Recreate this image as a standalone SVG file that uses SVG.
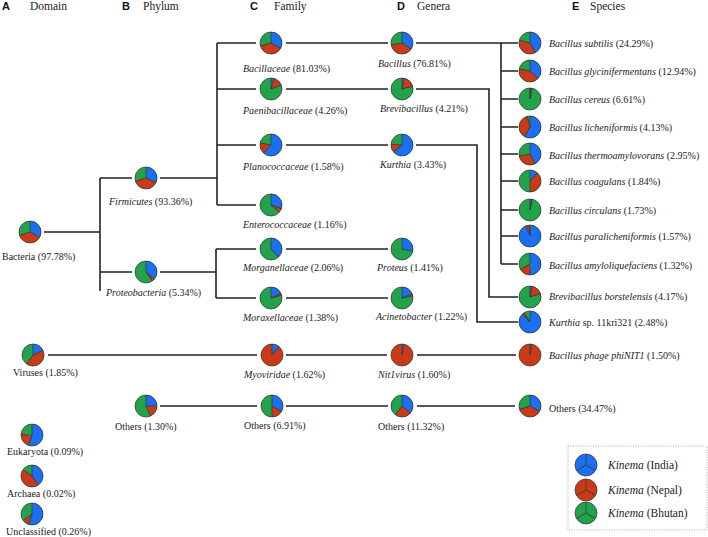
<svg xmlns="http://www.w3.org/2000/svg" width="708" height="537" viewBox="0 0 708 537">
<style>
.t{font-family:"Liberation Serif","Times New Roman",serif;font-size:10px;fill:#222}
.h{font-size:11.5px}
.L{font-family:"Liberation Sans",Arial,sans-serif;font-weight:bold;font-size:11px;fill:#111}
.i{font-style:italic}
.gf{fill:#22a24a}
.bf{fill:#1c6ff0}
.rf{fill:#c93a18}
.b{fill:none;stroke:#1c6ff0;stroke-width:11}
.r{fill:none;stroke:#c93a18;stroke-width:11}
.o{fill:none;stroke:#333;stroke-width:0.7}
.s{stroke:#333;stroke-width:0.7}
.c{fill:none;stroke:#222;stroke-width:1.6}
</style>
<rect width="708" height="537" fill="#fff"/>
<g id="headers">
<text class="L" x="2" y="10">A</text><text class="t h" x="30" y="10">Domain</text>
<text class="L" x="122" y="10">B</text><text class="t h" x="143" y="10">Phylum</text>
<text class="L" x="250" y="10">C</text><text class="t h" x="274" y="10">Family</text>
<text class="L" x="397" y="10">D</text><text class="t h" x="417" y="10">Genera</text>
<text class="L" x="572" y="10">E</text><text class="t h" x="590" y="10">Species</text>
</g>
<g id="connectors">
<path class="c" d="M44,232H100M100,178V291M100,178H132M100,272H132"/>
<path class="c" d="M160,178H217M217,43V205M217,43H256M217,89H256M217,145H256M217,205H256"/>
<path class="c" d="M160,272H216M216,249V298M216,249H256M216,298H256"/>
<path class="c" d="M286,43H388M286,89H388M286,145H388M286,249H388M286,298H388"/>
<path class="c" d="M416,43H518M501,43V264M501,71H518M501,99H518M501,127H518M501,154H518M501,181H518M501,210H518M501,236H518M501,264H518"/>
<path class="c" d="M416,89H489V297H518M416,145H477V322H518"/>
<path class="c" d="M48,355H257M286,355H387M417,355H516"/>
<path class="c" d="M160,406H257M286,406H388M417,406H515"/>
</g>

<g id="bacteria"><g transform="translate(30,232)"><circle r="11" class="gf"/><circle r="5.5" class="b" pathLength="100" stroke-dasharray="33 100" transform="rotate(-90)"/><circle r="5.5" class="r" pathLength="100" stroke-dasharray="37 100" stroke-dashoffset="-33" transform="rotate(-90)"/><circle r="11" class="o"/><line class="s" y2="-11"/><line class="s" y2="-11" transform="rotate(118.8)"/><line class="s" y2="-11" transform="rotate(252)"/></g><text class="t" x="2" y="259.5">Bacteria (97.78%)</text></g>

<g id="viruses"><g transform="translate(33,355)"><circle r="11" class="gf"/><circle r="5.5" class="b" pathLength="100" stroke-dasharray="18 100" transform="rotate(-90)"/><circle r="5.5" class="r" pathLength="100" stroke-dasharray="42 100" stroke-dashoffset="-18" transform="rotate(-90)"/><circle r="11" class="o"/><line class="s" y2="-11"/><line class="s" y2="-11" transform="rotate(64.8)"/><line class="s" y2="-11" transform="rotate(216)"/></g><text class="t" x="13" y="376">Viruses (1.85%)</text></g>

<g id="eukaryota"><g transform="translate(32,435)"><circle r="11" class="gf"/><circle r="5.5" class="b" pathLength="100" stroke-dasharray="55 100" transform="rotate(-90)"/><circle r="5.5" class="r" pathLength="100" stroke-dasharray="20 100" stroke-dashoffset="-55" transform="rotate(-90)"/><circle r="11" class="o"/><line class="s" y2="-11"/><line class="s" y2="-11" transform="rotate(198)"/><line class="s" y2="-11" transform="rotate(270)"/></g><text class="t" x="7" y="455">Eukaryota (0.09%)</text></g>

<g id="archaea"><g transform="translate(32,476)"><circle r="11" class="gf"/><circle r="5.5" class="b" pathLength="100" stroke-dasharray="40 100" transform="rotate(-90)"/><circle r="5.5" class="r" pathLength="100" stroke-dasharray="45 100" stroke-dashoffset="-40" transform="rotate(-90)"/><circle r="11" class="o"/><line class="s" y2="-11"/><line class="s" y2="-11" transform="rotate(144)"/><line class="s" y2="-11" transform="rotate(306)"/></g><text class="t" x="7" y="497">Archaea (0.02%)</text></g>

<g id="unclassified"><g transform="translate(32,514)"><circle r="11" class="gf"/><circle r="5.5" class="b" pathLength="100" stroke-dasharray="55 100" transform="rotate(-90)"/><circle r="5.5" class="r" pathLength="100" stroke-dasharray="10 100" stroke-dashoffset="-55" transform="rotate(-90)"/><circle r="11" class="o"/><line class="s" y2="-11"/><line class="s" y2="-11" transform="rotate(198)"/><line class="s" y2="-11" transform="rotate(234)"/></g><text class="t" x="6" y="534.5">Unclassified (0.26%)</text></g>

<g id="firmicutes"><g transform="translate(146,178)"><circle r="11" class="gf"/><circle r="5.5" class="b" pathLength="100" stroke-dasharray="32 100" transform="rotate(-90)"/><circle r="5.5" class="r" pathLength="100" stroke-dasharray="38 100" stroke-dashoffset="-32" transform="rotate(-90)"/><circle r="11" class="o"/><line class="s" y2="-11"/><line class="s" y2="-11" transform="rotate(115.2)"/><line class="s" y2="-11" transform="rotate(252)"/></g><text class="t" x="109" y="205"><tspan class="i">Firmicutes</tspan> (93.36%)</text></g>

<g id="proteobacteria"><g transform="translate(146,272)"><circle r="11" class="gf"/><circle r="5.5" class="b" pathLength="100" stroke-dasharray="36 100" transform="rotate(-90)"/><circle r="5.5" class="r" pathLength="100" stroke-dasharray="4 100" stroke-dashoffset="-36" transform="rotate(-90)"/><circle r="11" class="o"/><line class="s" y2="-11"/><line class="s" y2="-11" transform="rotate(129.6)"/><line class="s" y2="-11" transform="rotate(144)"/></g><text class="t" x="106" y="296"><tspan class="i">Proteobacteria</tspan> (5.34%)</text></g>

<g id="others-phylum"><g transform="translate(146,406)"><circle r="11" class="gf"/><circle r="5.5" class="b" pathLength="100" stroke-dasharray="25 100" transform="rotate(-90)"/><circle r="5.5" class="r" pathLength="100" stroke-dasharray="18 100" stroke-dashoffset="-25" transform="rotate(-90)"/><circle r="11" class="o"/><line class="s" y2="-11"/><line class="s" y2="-11" transform="rotate(90)"/><line class="s" y2="-11" transform="rotate(154.8)"/></g><text class="t" x="115" y="430">Others (1.30%)</text></g>

<g id="bacillaceae"><g transform="translate(271,43)"><circle r="11" class="gf"/><circle r="5.5" class="b" pathLength="100" stroke-dasharray="33 100" transform="rotate(-90)"/><circle r="5.5" class="r" pathLength="100" stroke-dasharray="38 100" stroke-dashoffset="-33" transform="rotate(-90)"/><circle r="11" class="o"/><line class="s" y2="-11"/><line class="s" y2="-11" transform="rotate(118.8)"/><line class="s" y2="-11" transform="rotate(255.6)"/></g><text class="t" x="243" y="72"><tspan class="i">Bacillaceae</tspan> (81.03%)</text></g>

<g id="paenibacillaceae"><g transform="translate(271,89)"><circle r="11" class="gf"/><circle r="5.5" class="b" pathLength="100" stroke-dasharray="4 100" transform="rotate(-90)"/><circle r="5.5" class="r" pathLength="100" stroke-dasharray="15 100" stroke-dashoffset="-4" transform="rotate(-90)"/><circle r="11" class="o"/><line class="s" y2="-11"/><line class="s" y2="-11" transform="rotate(14.4)"/><line class="s" y2="-11" transform="rotate(68.4)"/></g><text class="t" x="243" y="113.5"><tspan class="i">Paenibacillaceae</tspan> (4.26%)</text></g>

<g id="planococcaceae"><g transform="translate(271,145)"><circle r="11" class="gf"/><circle r="5.5" class="b" pathLength="100" stroke-dasharray="62 100" transform="rotate(-90)"/><circle r="5.5" class="r" pathLength="100" stroke-dasharray="16 100" stroke-dashoffset="-62" transform="rotate(-90)"/><circle r="11" class="o"/><line class="s" y2="-11"/><line class="s" y2="-11" transform="rotate(223.2)"/><line class="s" y2="-11" transform="rotate(280.8)"/></g><text class="t" x="243" y="170"><tspan class="i">Planococcaceae</tspan> (1.58%)</text></g>

<g id="enterococcaceae"><g transform="translate(271,205)"><circle r="11" class="gf"/><circle r="5.5" class="b" pathLength="100" stroke-dasharray="30 100" transform="rotate(-90)"/><circle r="5.5" class="r" pathLength="100" stroke-dasharray="6 100" stroke-dashoffset="-30" transform="rotate(-90)"/><circle r="11" class="o"/><line class="s" y2="-11"/><line class="s" y2="-11" transform="rotate(108)"/><line class="s" y2="-11" transform="rotate(129.6)"/></g><text class="t" x="243" y="228"><tspan class="i">Enterococcaceae</tspan> (1.16%)</text></g>

<g id="morganellaceae"><g transform="translate(271,249)"><circle r="11" class="gf"/><circle r="5.5" class="b" pathLength="100" stroke-dasharray="38 100" transform="rotate(-90)"/><circle r="11" class="o"/><line class="s" y2="-11"/><line class="s" y2="-11" transform="rotate(136.8)"/></g><text class="t" x="243" y="271"><tspan class="i">Morganellaceae</tspan> (2.06%)</text></g>

<g id="moraxellaceae"><g transform="translate(271,298)"><circle r="11" class="gf"/><circle r="5.5" class="b" pathLength="100" stroke-dasharray="18 100" transform="rotate(-90)"/><circle r="5.5" class="r" pathLength="100" stroke-dasharray="3 100" stroke-dashoffset="-18" transform="rotate(-90)"/><circle r="11" class="o"/><line class="s" y2="-11"/><line class="s" y2="-11" transform="rotate(64.8)"/><line class="s" y2="-11" transform="rotate(75.6)"/></g><text class="t" x="243" y="321"><tspan class="i">Moraxellaceae</tspan> (1.38%)</text></g>

<g id="myoviridae"><g transform="translate(272,355)"><circle r="11" class="rf"/><circle r="5.5" class="b" pathLength="100" stroke-dasharray="11 100" transform="rotate(-90)"/><circle r="11" class="o"/><line class="s" y2="-11"/><line class="s" y2="-11" transform="rotate(39.6)"/></g><text class="t" x="244" y="377.5"><tspan class="i">Myoviridae</tspan> (1.62%)</text></g>

<g id="others-family"><g transform="translate(272,406)"><circle r="11" class="gf"/><circle r="5.5" class="b" pathLength="100" stroke-dasharray="33 100" transform="rotate(-90)"/><circle r="5.5" class="r" pathLength="100" stroke-dasharray="17 100" stroke-dashoffset="-33" transform="rotate(-90)"/><circle r="11" class="o"/><line class="s" y2="-11"/><line class="s" y2="-11" transform="rotate(118.8)"/><line class="s" y2="-11" transform="rotate(180)"/></g><text class="t" x="244" y="429">Others (6.91%)</text></g>

<g id="bacillus"><g transform="translate(402,43)"><circle r="11" class="gf"/><circle r="5.5" class="b" pathLength="100" stroke-dasharray="34 100" transform="rotate(-90)"/><circle r="5.5" class="r" pathLength="100" stroke-dasharray="38 100" stroke-dashoffset="-34" transform="rotate(-90)"/><circle r="11" class="o"/><line class="s" y2="-11"/><line class="s" y2="-11" transform="rotate(122.4)"/><line class="s" y2="-11" transform="rotate(259.2)"/></g><text class="t" x="378" y="67"><tspan class="i">Bacillus</tspan> (76.81%)</text></g>

<g id="brevibacillus"><g transform="translate(402,89)"><circle r="11" class="gf"/><circle r="5.5" class="b" pathLength="100" stroke-dasharray="3 100" transform="rotate(-90)"/><circle r="5.5" class="r" pathLength="100" stroke-dasharray="18 100" stroke-dashoffset="-3" transform="rotate(-90)"/><circle r="11" class="o"/><line class="s" y2="-11"/><line class="s" y2="-11" transform="rotate(10.8)"/><line class="s" y2="-11" transform="rotate(75.6)"/></g><text class="t" x="380" y="112"><tspan class="i">Brevibacillus</tspan> (4.21%)</text></g>

<g id="kurthia"><g transform="translate(402,145)"><circle r="11" class="gf"/><circle r="5.5" class="b" pathLength="100" stroke-dasharray="64 100" transform="rotate(-90)"/><circle r="5.5" class="r" pathLength="100" stroke-dasharray="12 100" stroke-dashoffset="-64" transform="rotate(-90)"/><circle r="11" class="o"/><line class="s" y2="-11"/><line class="s" y2="-11" transform="rotate(230.4)"/><line class="s" y2="-11" transform="rotate(273.6)"/></g><text class="t" x="380" y="167.5"><tspan class="i">Kurthia</tspan> (3.43%)</text></g>

<g id="proteus"><g transform="translate(402,249)"><circle r="11" class="gf"/><circle r="5.5" class="b" pathLength="100" stroke-dasharray="28 100" transform="rotate(-90)"/><circle r="11" class="o"/><line class="s" y2="-11"/><line class="s" y2="-11" transform="rotate(100.8)"/></g><text class="t" x="377" y="271"><tspan class="i">Proteus</tspan> (1.41%)</text></g>

<g id="acinetobacter"><g transform="translate(402,298)"><circle r="11" class="gf"/><circle r="5.5" class="b" pathLength="100" stroke-dasharray="19 100" transform="rotate(-90)"/><circle r="5.5" class="r" pathLength="100" stroke-dasharray="3 100" stroke-dashoffset="-19" transform="rotate(-90)"/><circle r="11" class="o"/><line class="s" y2="-11"/><line class="s" y2="-11" transform="rotate(68.4)"/><line class="s" y2="-11" transform="rotate(79.2)"/></g><text class="t" x="376" y="320"><tspan class="i">Acinetobacter</tspan> (1.22%)</text></g>

<g id="nit1virus"><g transform="translate(402,355)"><circle r="11" class="rf"/><circle r="5.5" class="b" pathLength="100" stroke-dasharray="3 100" transform="rotate(-90)"/><circle r="11" class="o"/><line class="s" y2="-11"/><line class="s" y2="-11" transform="rotate(10.8)"/></g><text class="t" x="378" y="378"><tspan class="i">Nit1virus</tspan> (1.60%)</text></g>

<g id="others-genera"><g transform="translate(402,406)"><circle r="11" class="gf"/><circle r="5.5" class="b" pathLength="100" stroke-dasharray="36 100" transform="rotate(-90)"/><circle r="5.5" class="r" pathLength="100" stroke-dasharray="24 100" stroke-dashoffset="-36" transform="rotate(-90)"/><circle r="11" class="o"/><line class="s" y2="-11"/><line class="s" y2="-11" transform="rotate(129.6)"/><line class="s" y2="-11" transform="rotate(216)"/></g><text class="t" x="378" y="430">Others (11.32%)</text></g>

<g id="b-subtilis"><g transform="translate(530,43)"><circle r="11" class="gf"/><circle r="5.5" class="b" pathLength="100" stroke-dasharray="42 100" transform="rotate(-90)"/><circle r="5.5" class="r" pathLength="100" stroke-dasharray="37 100" stroke-dashoffset="-42" transform="rotate(-90)"/><circle r="11" class="o"/><line class="s" y2="-11"/><line class="s" y2="-11" transform="rotate(151.2)"/><line class="s" y2="-11" transform="rotate(284.4)"/></g><text class="t" x="549" y="47"><tspan class="i">Bacillus subtilis</tspan> (24.29%)</text></g>

<g id="b-glycinifermentans"><g transform="translate(530,71)"><circle r="11" class="gf"/><circle r="5.5" class="b" pathLength="100" stroke-dasharray="37 100" transform="rotate(-90)"/><circle r="5.5" class="r" pathLength="100" stroke-dasharray="41 100" stroke-dashoffset="-37" transform="rotate(-90)"/><circle r="11" class="o"/><line class="s" y2="-11"/><line class="s" y2="-11" transform="rotate(133.2)"/><line class="s" y2="-11" transform="rotate(280.8)"/></g><text class="t" x="549" y="75"><tspan class="i">Bacillus glycinifermentans</tspan> (12.94%)</text></g>

<g id="b-cereus"><g transform="translate(530,99)"><circle r="11" class="gf"/><circle r="5.5" class="b" pathLength="100" stroke-dasharray="1 100" transform="rotate(-90)"/><circle r="5.5" class="r" pathLength="100" stroke-dasharray="2 100" stroke-dashoffset="-1" transform="rotate(-90)"/><circle r="11" class="o"/><line class="s" y2="-11"/><line class="s" y2="-11" transform="rotate(3.6)"/><line class="s" y2="-11" transform="rotate(10.8)"/></g><text class="t" x="549" y="102.5"><tspan class="i">Bacillus cereus</tspan> (6.61%)</text></g>

<g id="b-licheniformis"><g transform="translate(530,127)"><circle r="11" class="gf"/><circle r="5.5" class="b" pathLength="100" stroke-dasharray="58 100" transform="rotate(-90)"/><circle r="5.5" class="r" pathLength="100" stroke-dasharray="38 100" stroke-dashoffset="-58" transform="rotate(-90)"/><circle r="11" class="o"/><line class="s" y2="-11"/><line class="s" y2="-11" transform="rotate(208.8)"/><line class="s" y2="-11" transform="rotate(345.6)"/></g><text class="t" x="549" y="131"><tspan class="i">Bacillus licheniformis</tspan> (4.13%)</text></g>

<g id="b-thermoamylovorans"><g transform="translate(530,154)"><circle r="11" class="gf"/><circle r="5.5" class="b" pathLength="100" stroke-dasharray="42 100" transform="rotate(-90)"/><circle r="5.5" class="r" pathLength="100" stroke-dasharray="30 100" stroke-dashoffset="-42" transform="rotate(-90)"/><circle r="11" class="o"/><line class="s" y2="-11"/><line class="s" y2="-11" transform="rotate(151.2)"/><line class="s" y2="-11" transform="rotate(259.2)"/></g><text class="t" x="549" y="158.5"><tspan class="i">Bacillus thermoamylovorans</tspan> (2.95%)</text></g>

<g id="b-coagulans"><g transform="translate(530,181)"><circle r="11" class="gf"/><circle r="5.5" class="b" pathLength="100" stroke-dasharray="12 100" transform="rotate(-90)"/><circle r="5.5" class="r" pathLength="100" stroke-dasharray="38 100" stroke-dashoffset="-12" transform="rotate(-90)"/><circle r="11" class="o"/><line class="s" y2="-11"/><line class="s" y2="-11" transform="rotate(43.2)"/><line class="s" y2="-11" transform="rotate(180)"/></g><text class="t" x="549" y="184.5"><tspan class="i">Bacillus coagulans</tspan> (1.84%)</text></g>

<g id="b-circulans"><g transform="translate(530,210)"><circle r="11" class="gf"/><circle r="5.5" class="b" pathLength="100" stroke-dasharray="2 100" transform="rotate(-90)"/><circle r="5.5" class="r" pathLength="100" stroke-dasharray="1 100" stroke-dashoffset="-2" transform="rotate(-90)"/><circle r="11" class="o"/><line class="s" y2="-11"/><line class="s" y2="-11" transform="rotate(7.2)"/><line class="s" y2="-11" transform="rotate(10.8)"/></g><text class="t" x="549" y="213.5"><tspan class="i">Bacillus circulans</tspan> (1.73%)</text></g>

<g id="b-paralicheniformis"><g transform="translate(530,236)"><circle r="11" class="gf"/><circle r="5.5" class="b" pathLength="100" stroke-dasharray="94 100" transform="rotate(-90)"/><circle r="5.5" class="r" pathLength="100" stroke-dasharray="5 100" stroke-dashoffset="-94" transform="rotate(-90)"/><circle r="11" class="o"/><line class="s" y2="-11"/><line class="s" y2="-11" transform="rotate(338.4)"/><line class="s" y2="-11" transform="rotate(356.4)"/></g><text class="t" x="549" y="239.5"><tspan class="i">Bacillus paralicheniformis</tspan> (1.57%)</text></g>

<g id="b-amyloliquefaciens"><g transform="translate(530,264)"><circle r="11" class="gf"/><circle r="5.5" class="b" pathLength="100" stroke-dasharray="50 100" transform="rotate(-90)"/><circle r="5.5" class="r" pathLength="100" stroke-dasharray="17 100" stroke-dashoffset="-50" transform="rotate(-90)"/><circle r="11" class="o"/><line class="s" y2="-11"/><line class="s" y2="-11" transform="rotate(180)"/><line class="s" y2="-11" transform="rotate(241.2)"/></g><text class="t" x="549" y="268.5"><tspan class="i">Bacillus amyloliquefaciens</tspan> (1.32%)</text></g>

<g id="brevibacillus-borstelensis"><g transform="translate(530,297)"><circle r="11" class="gf"/><circle r="5.5" class="b" pathLength="100" stroke-dasharray="3 100" transform="rotate(-90)"/><circle r="5.5" class="r" pathLength="100" stroke-dasharray="17 100" stroke-dashoffset="-3" transform="rotate(-90)"/><circle r="11" class="o"/><line class="s" y2="-11"/><line class="s" y2="-11" transform="rotate(10.8)"/><line class="s" y2="-11" transform="rotate(72)"/></g><text class="t" x="549" y="299.5"><tspan class="i">Brevibacillus borstelensis</tspan> (4.17%)</text></g>

<g id="kurthia-sp"><g transform="translate(530,322)"><circle r="11" class="gf"/><circle r="5.5" class="b" pathLength="100" stroke-dasharray="88 100" transform="rotate(-90)"/><circle r="5.5" class="r" pathLength="100" stroke-dasharray="3 100" stroke-dashoffset="-88" transform="rotate(-90)"/><circle r="11" class="o"/><line class="s" y2="-11"/><line class="s" y2="-11" transform="rotate(316.8)"/><line class="s" y2="-11" transform="rotate(327.6)"/></g><text class="t" x="549" y="326"><tspan class="i">Kurthia</tspan> sp. 11kri321 (2.48%)</text></g>

<g id="bacillus-phage"><g transform="translate(530,355)"><circle r="11" class="rf"/><circle r="5.5" class="b" pathLength="100" stroke-dasharray="2 100" transform="rotate(-90)"/><circle r="11" class="o"/><line class="s" y2="-11"/><line class="s" y2="-11" transform="rotate(7.2)"/></g><text class="t" x="549" y="358.5"><tspan class="i">Bacillus phage phiNIT1</tspan> (1.50%)</text></g>

<g id="others-species"><g transform="translate(530,406)"><circle r="11" class="gf"/><circle r="5.5" class="b" pathLength="100" stroke-dasharray="33 100" transform="rotate(-90)"/><circle r="5.5" class="r" pathLength="100" stroke-dasharray="37 100" stroke-dashoffset="-33" transform="rotate(-90)"/><circle r="11" class="o"/><line class="s" y2="-11"/><line class="s" y2="-11" transform="rotate(118.8)"/><line class="s" y2="-11" transform="rotate(252)"/></g><text class="t" x="549" y="412">Others (34.47%)</text></g>

<g id="legend">
<rect x="568" y="446" width="139" height="84" fill="none" stroke="#999" stroke-width="0.8" stroke-dasharray="1 1.5"/>
<g transform="translate(586,465)"><circle r="11" class="bf"/><circle r="11" class="o"/><line class="s" y2="-11"/><line class="s" y2="-11" transform="rotate(120)"/><line class="s" y2="-11" transform="rotate(240)"/></g>
<g transform="translate(586,490)"><circle r="11" class="rf"/><circle r="11" class="o"/><line class="s" y2="-11"/><line class="s" y2="-11" transform="rotate(120)"/><line class="s" y2="-11" transform="rotate(240)"/></g>
<g transform="translate(586,513)"><circle r="11" class="gf"/><circle r="11" class="o"/><line class="s" y2="-11"/><line class="s" y2="-11" transform="rotate(120)"/><line class="s" y2="-11" transform="rotate(240)"/></g>
<text class="t h" x="608" y="469"><tspan class="i">Kinema</tspan> (India)</text>
<text class="t h" x="608" y="494"><tspan class="i">Kinema</tspan> (Nepal)</text>
<text class="t h" x="608" y="517"><tspan class="i">Kinema</tspan> (Bhutan)</text>
</g>
</svg>
